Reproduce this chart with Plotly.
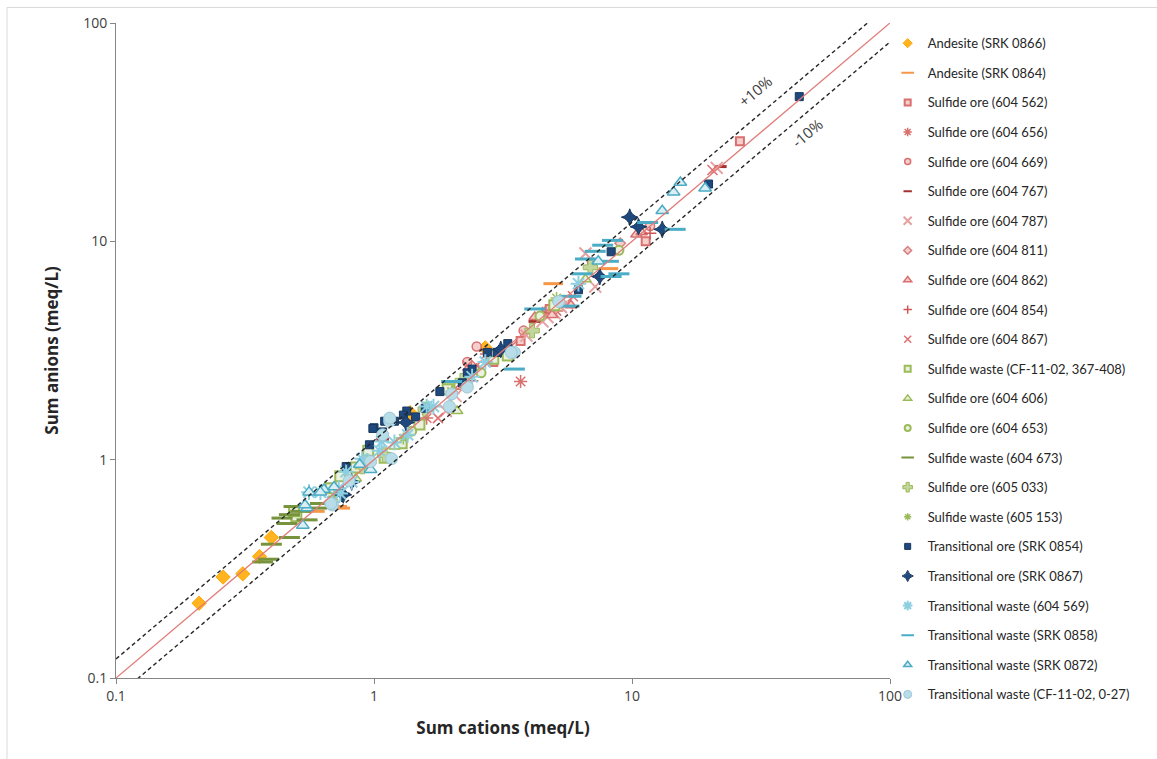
import plotly.graph_objects as go

# ---- Charge balance data: sum of cations vs sum of anions (meq/L) ----
SERIES_NAMES = [
    "Andesite (SRK 0866)",
    "Andesite (SRK 0864)",
    "Sulfide ore (604 562)",
    "Sulfide ore (604 656)",
    "Sulfide ore (604 669)",
    "Sulfide ore (604 767)",
    "Sulfide ore (604 787)",
    "Sulfide ore (604 811)",
    "Sulfide ore (604 862)",
    "Sulfide ore (604 854)",
    "Sulfide ore (604 867)",
    "Sulfide waste (CF-11-02, 367-408)",
    "Sulfide ore (604 606)",
    "Sulfide ore (604 653)",
    "Sulfide waste (604 673)",
    "Sulfide ore (605 033)",
    "Sulfide waste (605 153)",
    "Transitional ore (SRK 0854)",
    "Transitional ore (SRK 0867)",
    "Transitional waste (604 569)",
    "Transitional waste (SRK 0858)",
    "Transitional waste (SRK 0872)",
    "Transitional waste (CF-11-02, 0-27)",
]

andesite_0866_cat = [0.21, 0.26, 0.31, 0.36, 0.40, 1.38, 2.7]
andesite_0866_an = [0.22, 0.29, 0.30, 0.36, 0.44, 1.64, 3.25]

andesite_0864_cat = [0.59, 0.74, 0.72, 4.95, 8.1, 1.45]
andesite_0864_an = [0.58, 0.60, 0.61, 6.4, 7.5, 1.52]

sulf_562_cat = [26.2, 11.3, 3.7, 4.8, 2.9]
sulf_562_an = [28.7, 10.0, 3.5, 4.9, 2.8]

sulf_656_cat = [3.7, 2.73, 4.6, 2.05, 5.1, 1.6]
sulf_656_an = [2.28, 3.05, 4.7, 2.1, 4.8, 1.55]

sulf_669_cat = [2.5, 3.8, 11.75, 2.3, 7.0]
sulf_669_an = [3.3, 3.9, 11.75, 2.8, 8.0]

sulf_767_cat = [22.0, 1.08, 4.2]
sulf_767_an = [22.0, 1.24, 4.3]

sulf_787_cat = [21.3, 7.2, 6.6, 5.0, 5.3, 4.7, 4.5, 1.9, 2.07, 5.6, 3.9]
sulf_787_an = [21.7, 6.2, 8.8, 4.7, 5.0, 4.5, 4.3, 1.67, 1.96, 5.2, 3.7]

sulf_811_cat = [9.0, 2.5, 3.2]
sulf_811_an = [9.8, 2.6, 3.1]

sulf_862_cat = [10.4, 5.8, 4.2, 4.9, 10.9]
sulf_862_an = [10.75, 5.1, 4.5, 4.6, 11.0]

sulf_854_cat = [11.75, 4.5, 2.4]
sulf_854_an = [10.9, 4.7, 2.3]

sulf_867_cat = [20.5, 1.77, 2.3, 2.5, 3.4, 5.9]
sulf_867_an = [21.2, 1.55, 2.7, 2.7, 3.3, 5.6]

sw_cf367_cat = [0.50, 0.49, 0.68, 0.74, 0.95, 1.28, 1.96, 1.93, 2.9, 5.0, 1.5, 3.3, 1.1, 0.85]
sw_cf367_an = [0.55, 0.58, 0.74, 0.84, 1.10, 1.19, 2.15, 2.1, 2.9, 5.1, 1.45, 3.0, 1.02, 0.92]

sulf_606_cat = [6.6, 2.9, 2.1, 1.2, 0.85]
sulf_606_an = [6.7, 3.05, 1.67, 1.15, 0.82]

sulf_653_cat = [8.9, 4.4, 1.4, 2.6]
sulf_653_an = [9.1, 4.55, 1.35, 2.5]

sw_673_cat = [0.49, 0.46, 0.47, 0.55, 0.40, 0.39, 0.37, 0.47, 0.60, 0.62, 0.52, 0.44]
sw_673_an = [0.61, 0.51, 0.56, 0.53, 0.41, 0.35, 0.34, 0.44, 0.60, 0.63, 0.58, 0.54]

sulf_033_cat = [6.9, 4.1, 1.58, 1.1, 0.9, 2.2]
sulf_033_an = [7.6, 3.9, 1.7, 1.05, 0.93, 2.3]

sw_153_cat = [5.1, 1.3, 0.7, 2.0]
sw_153_an = [5.5, 1.25, 0.68, 2.05]

tore_0854_cat = [44.5, 19.8, 8.3, 6.2, 3.3, 3.0, 2.75, 2.3, 2.2, 1.8, 1.58,
                 1.45, 1.34, 1.3, 1.1, 1.08, 1.0, 0.99, 0.96, 0.78, 2.4, 1.2]
tore_0854_an = [46.0, 18.3, 8.96, 6.0, 3.4, 3.1, 3.1, 2.5, 2.25, 2.05, 1.72,
                1.57, 1.67, 1.6, 1.5, 1.34, 1.4, 1.39, 1.17, 0.93, 2.6, 1.5]

tore_0867_cat = [9.8, 10.6, 13.1, 7.5, 0.82, 0.76, 0.75, 1.33, 3.1]
tore_0867_an = [12.9, 11.66, 11.35, 6.9, 0.79, 0.69, 0.70, 1.48, 3.2]

tw_569_cat = [6.2, 2.7, 2.4, 1.7, 1.6, 1.05, 1.07, 0.9, 0.95, 0.82, 0.78,
              0.74, 0.73, 0.69, 0.62, 0.56, 1.2, 1.35]
tw_569_an = [6.4, 2.8, 2.4, 1.75, 1.75, 1.1, 1.21, 1.01, 0.98, 0.79, 0.88,
             0.70, 0.74, 0.64, 0.71, 0.71, 1.2, 1.3]

tw_0858_cat = [14.7, 11.5, 8.4, 7.7, 7.2, 8.1, 6.6, 6.4, 8.3, 8.9, 5.8, 4.2, 5.7, 3.5, 2.0]
tw_0858_an = [11.35, 12.2, 10.1, 9.6, 9.0, 8.1, 8.3, 7.1, 6.9, 7.1, 5.6, 4.9, 5.05, 2.6, 2.28]

tw_0872_cat = [15.4, 14.5, 19.2, 13.1, 7.4, 0.56, 0.55, 0.64, 0.97, 0.88, 0.62, 0.54, 0.53, 0.70]
tw_0872_an = [18.6, 16.8, 17.5, 13.8, 8.1, 0.71, 0.60, 0.73, 0.90, 0.95, 0.71, 0.62, 0.50, 0.75]

tw_cf027_cat = [5.2, 3.5, 3.4, 2.3, 2.0, 1.96, 1.15, 1.15, 1.08, 1.17, 0.97, 0.69, 0.68, 0.80]
tw_cf027_an = [5.3, 3.1, 3.1, 2.15, 2.0, 1.75, 1.5, 1.55, 1.3, 1.01, 0.98, 0.62, 0.63, 0.80]

CATIONS = [andesite_0866_cat, andesite_0864_cat, sulf_562_cat, sulf_656_cat, sulf_669_cat,
           sulf_767_cat, sulf_787_cat, sulf_811_cat, sulf_862_cat, sulf_854_cat, sulf_867_cat,
           sw_cf367_cat, sulf_606_cat, sulf_653_cat, sw_673_cat, sulf_033_cat, sw_153_cat,
           tore_0854_cat, tore_0867_cat, tw_569_cat, tw_0858_cat, tw_0872_cat, tw_cf027_cat]
ANIONS = [andesite_0866_an, andesite_0864_an, sulf_562_an, sulf_656_an, sulf_669_an,
          sulf_767_an, sulf_787_an, sulf_811_an, sulf_862_an, sulf_854_an, sulf_867_an,
          sw_cf367_an, sulf_606_an, sulf_653_an, sw_673_an, sulf_033_an, sw_153_an,
          tore_0854_an, tore_0867_an, tw_569_an, tw_0858_an, tw_0872_an, tw_cf027_an]

# reference lines: 1:1 and +/-10 % charge balance error
LINE_X = [0.1, 100]
BALANCE_ERROR = 0.10
AXIS_TICKS = [0.1, 1, 10, 100]
TICK_TEXT = ["0.1", "1", "10", "100"]

# marker styles: (symbol, size, fill, line colour, line width, legend size)
RED = "#D9706E"
PINK_FILL = "#F4CFCE"
GREEN = "#9BBB59"
GREEN_FILL = "#EBF1DE"
BLUE = "#4BACC6"
NAVY = "#1F497D"
STYLES = [
    ("diamond", 11, "#FFB420", "#FFA500", 1, 7),
    ("line-ew", 14, "#F79646", "#F79646", 3, 9),
    ("square", 8, PINK_FILL, RED, 2, 6),
    ("asterisk-open", 11, RED, RED, 1.5, 7),
    ("circle", 9, PINK_FILL, RED, 1.5, 6),
    ("line-ew", 9, "#A5302D", "#A5302D", 3, 6),
    ("x-thin-open", 12, "#E6A0A0", "#E6A0A0", 2, 8),
    ("diamond", 8, PINK_FILL, "#D98080", 1.5, 6),
    ("triangle-up", 10, PINK_FILL, RED, 1.5, 7),
    ("cross-thin-open", 9, "#D05555", "#D05555", 1.5, 6),
    ("x-thin-open", 10, "#E07070", "#E07070", 1.5, 7),
    ("square", 10, GREEN_FILL, GREEN, 2, 6),
    ("triangle-up", 10, GREEN_FILL, GREEN, 1.5, 7),
    ("circle", 9, GREEN_FILL, GREEN, 2, 6),
    ("line-ew", 15, "#77933C", "#77933C", 3, 9),
    ("cross", 12, "#C3D69B", GREEN, 1, 8),
    ("asterisk-open", 10, GREEN, GREEN, 1.5, 6),
    ("square", 8, NAVY, "#17375E", 1, 6),
    ("star-diamond", 12, NAVY, "#17375E", 1, 8),
    ("asterisk-open", 13, "#8CCFE0", "#8CCFE0", 2, 8),
    ("line-ew", 15, BLUE, BLUE, 3, 9),
    ("triangle-up", 11, "#DAEEF3", BLUE, 1.5, 7),
    ("circle", 12, "#B7DDE8", "#9EC6D6", 1, 8),
]

fig = go.Figure()

for name, cat, an, st in zip(SERIES_NAMES, CATIONS, ANIONS, STYLES):
    symbol, size, fill, lcol, lw, lsize = st
    fig.add_trace(go.Scatter(
        x=cat, y=an, mode="markers", name=name, legendgroup=name, showlegend=False,
        marker=dict(symbol=symbol, size=size, color=fill,
                    line=dict(color=lcol, width=lw)),
        hovertemplate=name + "<br>Cations %{x}<br>Anions %{y}<extra></extra>",
    ))
    # compact legend swatch for the series
    fig.add_trace(go.Scatter(
        x=[None], y=[None], mode="markers", name=name, legendgroup=name,
        marker=dict(symbol=symbol, size=lsize, color=fill,
                    line=dict(color=lcol, width=min(lw, 2))),
    ))

upper = [v * (1 + BALANCE_ERROR) / (1 - BALANCE_ERROR) for v in LINE_X]
lower = [v * (1 - BALANCE_ERROR) / (1 + BALANCE_ERROR) for v in LINE_X]
for ys in (upper, lower):
    fig.add_trace(go.Scatter(x=LINE_X, y=ys, mode="lines", showlegend=False,
                             hoverinfo="skip",
                             line=dict(color="#262626", width=1.4, dash="4px,3px")))
fig.add_trace(go.Scatter(x=LINE_X, y=LINE_X, mode="lines", showlegend=False,
                         hoverinfo="skip", line=dict(color="#E07B78", width=1.3)))

axis_common = dict(
    type="log", range=[-1, 2], tickvals=AXIS_TICKS, ticktext=TICK_TEXT,
    showgrid=False, zeroline=False, showline=True, linecolor="#868686", linewidth=1,
    ticks="outside", ticklen=5, tickcolor="#868686",
    tickfont=dict(family="Open Sans", size=14, color="#404040"),
)

fig.update_layout(
    width=1157, height=759,
    margin=dict(l=116, r=267, t=23, b=81),
    paper_bgcolor="white", plot_bgcolor="white",
    xaxis=dict(**axis_common,
               title=dict(text="<b>Sum cations (meq/L)</b>", standoff=18,
                          font=dict(family="Open Sans", size=17, color="#262626"))),
    yaxis=dict(**axis_common,
               title=dict(text="<b>Sum anions (meq/L)</b>", standoff=20,
                          font=dict(family="Open Sans", size=17, color="#262626"))),
    legend=dict(x=0.997, xanchor="left", y=0.992, yanchor="top",
                traceorder="grouped", tracegroupgap=9.7, maxheight=755,
                font=dict(family="Lato", size=13, color="#262626"),
                bgcolor="rgba(0,0,0,0)"),
    annotations=[
        dict(x=1.477, y=1.689, xref="x", yref="y", text="+10%", showarrow=False,
             textangle=-40, font=dict(family="Open Sans", size=15, color="#404040")),
        dict(x=1.678, y=1.496, xref="x", yref="y", text="-10%", showarrow=False,
             textangle=-40, font=dict(family="Open Sans", size=15, color="#404040")),
    ],
    shapes=[
        dict(type="line", xref="paper", yref="paper", x0=-0.1408, x1=1.35,
             y0=1.0237, y1=1.0237, line=dict(color="#D9D9D9", width=1)),
        dict(type="line", xref="paper", yref="paper", x0=-0.1408, x1=-0.1408,
             y0=1.0237, y1=-0.13, line=dict(color="#D9D9D9", width=1)),
    ],
)

fig.write_html("out.html")
